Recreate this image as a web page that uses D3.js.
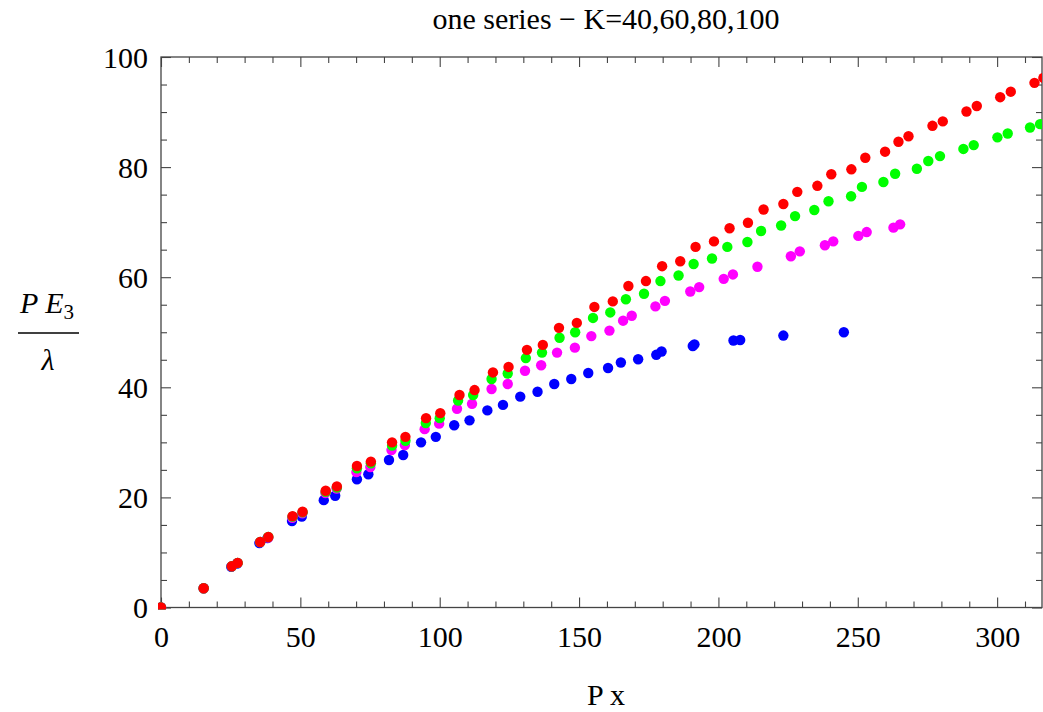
<!DOCTYPE html>
<html lang="en">

<head>
    <meta charset="utf-8">
    <title>one series - K=40,60,80,100</title>
    <style>
        body { margin: 0; background: #fff; }
        svg text { font-family: "Liberation Serif", "DejaVu Serif", serif; fill: #000; }
        .axis path { display: none; }
        .axis line { stroke: #444; stroke-width: 1.1; }
    </style>
</head>

<body>
    <script type="text/javascript" src="https://cdn.jsdelivr.net/npm/d3@7/dist/d3.min.js"></script>
    <script type="text/javascript">
        // series, one per K (drawn in this order, red on top)
        var seriesNames = ["K=40", "K=60", "K=80", "K=100"];
        var seriesColors = ["#0000ff", "#ff00ff", "#00ff00", "#ff0000"];

        var xK40 = [0, 15.3, 25.2, 27.3, 35.3, 38.2, 47.0, 50.5, 58.4, 62.5, 70.3, 74.4, 81.8, 86.9, 93.3, 98.6,
            105.2, 110.7, 117.1, 122.7, 128.9, 135.1, 141.1, 147.2, 153.3, 160.4, 165.0, 171.2, 177.7, 179.6,
            190.8, 191.4, 205.4, 207.8, 223.3, 245.0];
        var yK40 = [0, 3.5, 7.4, 8.0, 11.7, 12.6, 15.7, 16.5, 19.5, 20.3, 23.3, 24.2, 26.8, 27.7, 30.0, 31.0,
            33.1, 34.0, 35.8, 36.8, 38.3, 39.2, 40.6, 41.5, 42.6, 43.5, 44.5, 45.1, 45.9, 46.5,
            47.5, 47.8, 48.5, 48.6, 49.4, 50.0];

        var xK60 = [0, 15.3, 25.4, 27.5, 35.6, 38.5, 47.1, 50.7, 59.0, 63.0, 70.1, 75.1, 82.7, 87.5, 94.6, 99.8,
            106.2, 111.6, 118.6, 124.4, 130.6, 136.4, 142.1, 148.5, 154.4, 160.9, 165.8, 168.9, 177.4, 180.8,
            189.9, 193.1, 201.9, 205.2, 214.0, 226.0, 229.2, 238.2, 241.2, 250.2, 253.2, 262.8, 265.2];
        var yK60 = [0, 3.5, 7.5, 8.1, 11.9, 12.7, 16.3, 17.1, 20.8, 21.6, 24.6, 25.5, 28.6, 29.5, 32.4, 33.4,
            36.1, 37.0, 39.7, 40.6, 43.0, 44.0, 46.3, 47.2, 49.3, 50.3, 52.1, 53.0, 54.7, 55.7,
            57.4, 58.2, 59.7, 60.5, 61.9, 63.8, 64.7, 65.8, 66.5, 67.5, 68.2, 69.0, 69.6];

        var xK80 = [0, 15.3, 25.4, 27.5, 35.6, 38.5, 47.2, 50.8, 59.1, 63.1, 70.3, 75.3, 82.9, 87.7, 95.0, 100.0,
            106.6, 112.0, 118.6, 124.4, 130.9, 136.7, 143.0, 148.6, 155.0, 161.2, 166.8, 173.3, 179.2, 185.7,
            191.1, 197.7, 203.2, 210.4, 215.3, 222.5, 227.5, 234.4, 239.5, 247.6, 251.5, 259.2, 263.4, 271.2,
            275.3, 279.5, 287.9, 291.6, 300.1, 303.8, 311.8, 315.4];
        var yK80 = [0, 3.5, 7.5, 8.1, 11.9, 12.8, 16.5, 17.3, 21.0, 21.8, 25.3, 26.2, 29.4, 30.3, 33.5, 34.4,
            37.6, 38.6, 41.5, 42.5, 45.3, 46.3, 49.0, 50.0, 52.6, 53.6, 56.0, 57.0, 59.3, 60.3,
            62.4, 63.4, 65.5, 66.4, 68.4, 69.4, 71.1, 72.2, 73.8, 74.7, 76.4, 77.3, 78.8, 79.7,
            81.1, 82.0, 83.3, 84.0, 85.4, 86.1, 87.2, 87.8];

        var xK100 = [0, 15.3, 25.4, 27.5, 35.6, 38.5, 47.2, 50.8, 59.1, 63.1, 70.3, 75.3, 82.9, 87.7, 95.1, 100.2,
            107.1, 112.5, 119.1, 124.7, 131.3, 137.0, 142.8, 149.2, 155.5, 162.1, 167.7, 174.0, 179.8, 186.3,
            191.8, 198.4, 204.0, 210.6, 216.2, 223.3, 228.3, 235.5, 240.5, 247.7, 252.7, 259.8, 264.6, 268.2,
            276.8, 280.5, 289.0, 292.7, 301.1, 304.9, 313.4, 316.6];
        var yK100 = [0, 3.5, 7.5, 8.1, 11.9, 12.8, 16.6, 17.4, 21.2, 22.0, 25.7, 26.5, 30.0, 31.0, 34.4, 35.3,
            38.6, 39.5, 42.7, 43.7, 46.8, 47.7, 50.8, 51.7, 54.6, 55.6, 58.4, 59.3, 62.0, 62.9,
            65.5, 66.5, 68.9, 69.9, 72.3, 73.3, 75.5, 76.6, 78.7, 79.6, 81.7, 82.8, 84.6, 85.6,
            87.5, 88.3, 90.1, 91.1, 92.7, 93.7, 95.3, 96.2];

        var xSeries = [xK40, xK60, xK80, xK100];
        var ySeries = [yK40, yK60, yK80, yK100];

        // tick labels
        var xTickLabels = [0, 50, 100, 150, 200, 250, 300];
        var yTickLabels = [0, 20, 40, 60, 80, 100];

        var w = 1043;
        var h = 712;
        var plotLeft = 161, plotRight = 1042, plotTop = 57, plotBottom = 607.5;

        var xScale = d3.scaleLinear()
            .domain([0, 316.1])
            .range([plotLeft, plotRight]);
        var yScale = d3.scaleLinear()
            .domain([0, 100])
            .range([plotBottom, plotTop]);

        var svg = d3.select("body").append("svg")
            .attr("width", w)
            .attr("height", h);

        svg.append("defs").append("clipPath")
            .attr("id", "plot")
            .append("rect")
            .attr("x", plotLeft - 3)
            .attr("y", plotTop)
            .attr("width", plotRight - plotLeft + 3)
            .attr("height", plotBottom - plotTop + 2);

        //minor ticks, every 10 on x and 5 on y
        var xMinor = d3.range(0, 320, 10).filter(function(d) { return d % 50 != 0; });
        var yMinor = d3.range(0, 101, 5).filter(function(d) { return d % 20 != 0; });

        function frameAxis(axisFn, scale, values, size, labels, transform) {
            var a = axisFn(scale).tickValues(values).tickSizeInner(-size).tickSizeOuter(0);
            if (labels) a.tickPadding(size + 8); else a.tickFormat("");
            return svg.append("g")
                .attr("class", "axis")
                .attr("transform", transform)
                .call(a);
        }
        // bottom & left carry the labels, top & right just the ticks
        frameAxis(d3.axisBottom, xScale, xMinor, 6, false, "translate(0," + plotBottom + ")");
        var xAxisG = frameAxis(d3.axisBottom, xScale, xTickLabels, 10, true, "translate(0," + plotBottom + ")");
        frameAxis(d3.axisTop, xScale, xMinor, 6, false, "translate(0," + plotTop + ")");
        frameAxis(d3.axisTop, xScale, xTickLabels, 10, false, "translate(0," + plotTop + ")");
        frameAxis(d3.axisLeft, yScale, yMinor, 6, false, "translate(" + plotLeft + ",0)");
        var yAxisG = frameAxis(d3.axisLeft, yScale, yTickLabels, 10, true, "translate(" + plotLeft + ",0)");
        frameAxis(d3.axisRight, yScale, yMinor, 6, false, "translate(" + plotRight + ",0)");
        frameAxis(d3.axisRight, yScale, yTickLabels, 10, false, "translate(" + plotRight + ",0)");

        xAxisG.selectAll("text")
            .style("font-size", "30px")
            .attr("y", 18)
            .attr("dy", "0.71em");
        yAxisG.selectAll("text")
            .style("font-size", "30px")
            .attr("x", -13)
            .attr("dy", "0.34em");

        //frame
        svg.append("rect")
            .attr("x", plotLeft)
            .attr("y", plotTop)
            .attr("width", plotRight - plotLeft)
            .attr("height", plotBottom - plotTop)
            .attr("fill", "none")
            .attr("stroke", "#444")
            .attr("stroke-width", 1.3);

        //points
        var pts = svg.append("g").attr("clip-path", "url(#plot)");
        seriesNames.forEach(function(name, s) {
            var xs = xSeries[s], ys = ySeries[s];
            pts.append("g")
                .attr("class", "series")
                .selectAll("circle")
                .data(xs)
                .enter()
                .append("circle")
                .attr("cx", function(d) { return xScale(d); })
                .attr("cy", function(d, i) { return yScale(ys[i]); })
                .attr("r", 5.2)
                .attr("fill", seriesColors[s]);
        });

        //title and axis labels
        svg.append("text")
            .attr("x", 606)
            .attr("y", 28.5)
            .attr("text-anchor", "middle")
            .style("font-size", "30px")
            .text("one series \u2212 K=40,60,80,100");

        svg.append("text")
            .attr("x", 606)
            .attr("y", 705)
            .attr("text-anchor", "middle")
            .style("font-size", "30px")
            .text("P x");

        var ylab = svg.append("g").style("font-style", "italic");
        var num = ylab.append("text")
            .attr("x", 20)
            .attr("y", 313)
            .style("font-size", "30px");
        num.append("tspan").text("P E");
        num.append("tspan")
            .attr("dy", 6)
            .style("font-size", "21px")
            .style("font-style", "normal")
            .text("3");
        ylab.append("line")
            .attr("x1", 18)
            .attr("x2", 79)
            .attr("y1", 333)
            .attr("y2", 333)
            .attr("stroke", "#000")
            .attr("stroke-width", 1.3);
        ylab.append("text")
            .attr("x", 48)
            .attr("y", 370)
            .attr("text-anchor", "middle")
            .style("font-size", "30px")
            .text("\u03bb");
    </script>
</body>

</html>
